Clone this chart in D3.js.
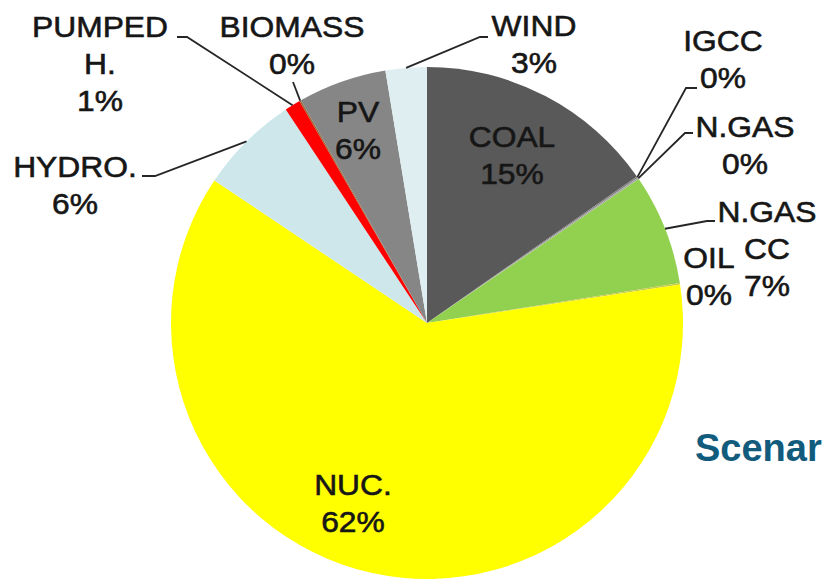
<!DOCTYPE html>
<html>
<head>
<meta charset="utf-8">
<script src="https://cdn.jsdelivr.net/npm/d3@7"></script>
<style>
  html, body { margin: 0; padding: 0; background: #fff; overflow: hidden; }
  svg { display: block; }
  text { font-family: "Liberation Sans", Arial, sans-serif; }
</style>
</head>
<body>
<svg id="chart" width="824" height="579"></svg>
<script>
// Generation mix shares (%), clockwise from 12 o'clock
const categories = ["COAL", "IGCC", "N.GAS", "N.GAS CC", "OIL", "NUC.", "HYDRO.", "PUMPED H.", "BIOMASS", "PV", "WIND"];
const shares     = [15.3,   0.1,    0.1,     7.0,        0.1,   61.8,   6.3,      1.0,         0.1,       5.6,  2.6];
const sliceColors = ["#595959", "#7f7f7f", "#a6a6a6", "#92d050", "#c9c94a", "#ffff00", "#cde7eb", "#ff0000", "#996633", "#868686", "#deeef1"];

// Label text lines (name split across lines) per category
const labelLines = {
  "COAL": ["COAL"], "IGCC": ["IGCC"], "N.GAS": ["N.GAS"], "N.GAS CC": ["N.GAS", "CC"],
  "OIL": ["OIL"], "NUC.": ["NUC."], "HYDRO.": ["HYDRO."], "PUMPED H.": ["PUMPED", "H."],
  "BIOMASS": ["BIOMASS"], "PV": ["PV"], "WIND": ["WIND"]
};

// Label placement: first-line baseline position, and optional leader elbow
const layout = {
  "COAL":      { x: 512, y: 147 },
  "IGCC":      { x: 723, y: 51,  leader: [[697, 88], [686, 88]] },
  "N.GAS":     { x: 745, y: 137, leader: [[693, 133], [685, 133]] },
  "N.GAS CC":  { x: 767, y: 222, leader: [[715, 221], [707, 221]] },
  "OIL":       { x: 709, y: 268 },
  "NUC.":      { x: 353, y: 495 },
  "HYDRO.":    { x: 75,  y: 177, leader: [[142, 176], [155, 176]] },
  "PUMPED H.": { x: 100, y: 37,  leader: [[177, 37], [187, 37]] },
  "BIOMASS":   { x: 292, y: 37,  leader: [[293, 82]] },
  "PV":        { x: 358, y: 122 },
  "WIND":      { x: 534, y: 36,  leader: [[488, 37], [480, 37]] }
};

const svg = d3.select("#chart");
const cx = 427, cy = 323, radius = 256, lineH = 37;

const pie = d3.pie().sort(null).value(d => d.value);
const data = categories.map((c, i) => ({ name: c, value: shares[i], color: sliceColors[i] }));
const arcs = pie(data);
const arc = d3.arc().innerRadius(0).outerRadius(radius);

const g = svg.append("g").attr("transform", `translate(${cx},${cy})`);

g.selectAll("path.slice")
  .data(arcs)
  .join("path")
  .attr("class", "slice")
  .attr("d", arc)
  .attr("fill", d => d.data.color);

// Heading beside the pie
svg.append("text")
  .attr("x", 695).attr("y", 461)
  .attr("fill", "#115b7c")
  .attr("font-size", 38)
  .attr("font-weight", "bold")
  .text("Scenar");

// Leader lines from the label elbow to the slice rim
const edgePoint = d => {
  const a = (d.startAngle + d.endAngle) / 2;
  return [cx + Math.sin(a) * radius, cy - Math.cos(a) * radius];
};

const lineGen = d3.line();
arcs.forEach(d => {
  const L = layout[d.data.name];
  if (!L.leader) return;
  const pts = L.leader.concat([edgePoint(d)]);
  svg.append("path")
    .attr("d", lineGen(pts))
    .attr("fill", "none")
    .attr("stroke", "#262626")
    .attr("stroke-width", 1.8);
});

// Labels: name lines followed by rounded percentage
arcs.forEach(d => {
  const L = layout[d.data.name];
  const lines = labelLines[d.data.name].concat([Math.round(d.data.value) + "%"]);
  const t = svg.append("text")
    .attr("text-anchor", "middle")
    .attr("font-size", 30)
    .attr("fill", "#161616")
    .attr("stroke", "#161616")
    .attr("stroke-width", 0.6)
    .attr("transform", `translate(${L.x},0) scale(1.06,1) translate(${-L.x},0)`);
  lines.forEach((s, i) => {
    t.append("tspan")
      .attr("x", L.x)
      .attr("y", L.y + i * lineH)
      .text(s);
  });
});
</script>
</body>
</html>
